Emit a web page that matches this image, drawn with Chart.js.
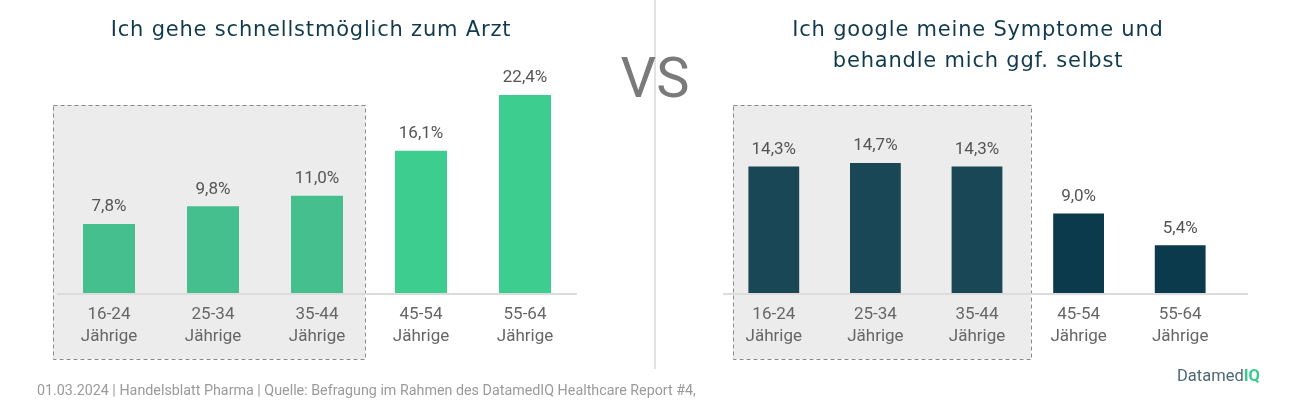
<!DOCTYPE html>
<html>
<head>
<meta charset="utf-8">
<script src="https://cdn.jsdelivr.net/npm/chart.js@4.4.1/dist/chart.umd.min.js"></script>
<style>
  html, body { margin: 0; padding: 0; background: #fff; }
  body { width: 1306px; height: 410px; position: relative; overflow: hidden; font-family: Roboto, "Noto Sans", sans-serif; }
  .abs { position: absolute; }
  #c1 { left: 0; top: 0; }
  #c2 { left: 656px; top: 0; }
  .title { color: #113b4d; font-family: "DejaVu Sans", sans-serif; font-size: 21px; text-align: center; line-height: 31px; white-space: nowrap; letter-spacing: 0.8px; }
  #t1 { left: 0; width: 622px; top: 14px; }
  #t2 { left: 678px; width: 600px; top: 14px; }
  #vs { left: 605px; width: 100px; top: 44px; text-align: center; font-size: 56px; color: #7a7a7a; line-height: 68px; }
  #divider { left: 654px; top: 0; width: 2px; height: 369px; background: #e2e2e2; }
  #footer { left: 37px; top: 382px; font-size: 14.3px; color: #9a9a9a; white-space: nowrap; }
  #logo { left: 1177px; top: 366px; font-size: 16.5px; color: #4d6876; white-space: nowrap; }
  #logo b { color: #3cc98d; font-weight: 700; }
</style>
</head>
<body>
<canvas id="c1" class="abs" width="650" height="410"></canvas>
<canvas id="c2" class="abs" width="650" height="410"></canvas>
<div id="divider" class="abs"></div>
<div id="t1" class="abs title">Ich gehe schnellstmöglich zum Arzt</div>
<div id="t2" class="abs title">Ich google meine Symptome und<br>behandle mich ggf. selbst</div>
<div id="vs" class="abs">VS</div>
<div id="footer" class="abs">01.03.2024 | Handelsblatt Pharma | Quelle: Befragung im Rahmen des DatamedIQ Healthcare Report #4,</div>
<div id="logo" class="abs">Datamed<b>IQ</b></div>
<script>
const categories = [["16-24","Jährige"],["25-34","Jährige"],["35-44","Jährige"],["45-54","Jährige"],["55-64","Jährige"]];
const arztValues = [7.8, 9.8, 11.0, 16.1, 22.4];
const googleValues = [14.3, 14.7, 14.3, 9.0, 5.4];
const arztColors = ["#46bf8e","#46bf8e","#46bf8e","#3ccd8f","#3ccd8f"];
const googleColors = ["#1a4756","#1a4756","#1a4756","#0b3a4d","#0b3a4d"];
const yMax = 25;

const fontFamily = 'Roboto, "Noto Sans", sans-serif';

function fmt(v) { return v.toFixed(1).replace('.', ',') + '%'; }

const boxPlugin = {
  id: 'groupBox',
  beforeDraw(chart, args, opts) {
    const x = chart.scales.x, area = chart.chartArea, ctx = chart.ctx;
    const cw = x.getPixelForValue(1) - x.getPixelForValue(0);
    const x0 = x.getPixelForValue(0) - cw / 2 + opts.leftOff;
    const x1 = x.getPixelForValue(2) + cw / 2 + opts.rightOff;
    const y0 = area.bottom - 188, y1 = area.bottom + 66;
    ctx.save();
    ctx.fillStyle = '#ececec';
    ctx.fillRect(x0, y0, x1 - x0, y1 - y0);
    ctx.setLineDash([4, 3]);
    ctx.strokeStyle = '#8a8a8a';
    ctx.lineWidth = 1;
    ctx.strokeRect(Math.round(x0) + 0.5, Math.round(y0) + 0.5, Math.round(x1 - x0), Math.round(y1 - y0));
    ctx.restore();
  },
  beforeDatasetsDraw(chart, args, opts) {
    const area = chart.chartArea, ctx = chart.ctx;
    ctx.save();
    ctx.strokeStyle = '#dcdcdc';
    ctx.lineWidth = 2;
    ctx.beginPath();
    ctx.moveTo(area.left, area.bottom + 1);
    ctx.lineTo(area.right + opts.lineExtra, area.bottom + 1);
    ctx.stroke();
    ctx.restore();
  }
};

const labelPlugin = {
  id: 'valueLabels',
  afterDatasetsDraw(chart) {
    const ctx = chart.ctx;
    const meta = chart.getDatasetMeta(0);
    const data = chart.data.datasets[0].data;
    ctx.save();
    ctx.font = '17px ' + fontFamily;
    ctx.fillStyle = '#555555';
    ctx.textAlign = 'center';
    ctx.textBaseline = 'middle';
    meta.data.forEach((bar, i) => {
      ctx.fillText(fmt(data[i]), bar.x, bar.y - 17);
    });
    ctx.restore();
  }
};

function makeChart(id, values, colors, padLeft, padRight, catPct, boxOpts) {
  return new Chart(document.getElementById(id), {
    type: 'bar',
    data: {
      labels: categories,
      datasets: [{
        data: values,
        backgroundColor: colors,
        borderWidth: 0,
        categoryPercentage: catPct,
        barPercentage: 1
      }]
    },
    options: {
      responsive: false,
      animation: false,
      events: [],
      layout: { padding: { left: padLeft, right: padRight, top: 72, bottom: 57 } },
      plugins: {
        legend: { display: false },
        tooltip: { enabled: false },
        title: { display: false },
        groupBox: boxOpts
      },
      scales: {
        x: {
          grid: { display: false, drawTicks: false },
          border: { display: false },
          ticks: {
            color: '#666666',
            padding: 11,
            maxRotation: 0,
            autoSkip: false,
            font: { family: fontFamily, size: 17, lineHeight: 1.3 }
          },
          afterFit(scale) { scale.height = 60; }
        },
        y: {
          display: false,
          min: 0,
          max: yMax
        }
      }
    },
    plugins: [boxPlugin, labelPlugin]
  });
}

makeChart('c1', arztValues, arztColors, 57, 73, 0.5, { leftOff: -4, rightOff: -4, lineExtra: 0 });
makeChart('c2', googleValues, googleColors, 67, 75, 0.5, { leftOff: 10, rightOff: 3, lineExtra: 17 });
</script>
</body>
</html>
